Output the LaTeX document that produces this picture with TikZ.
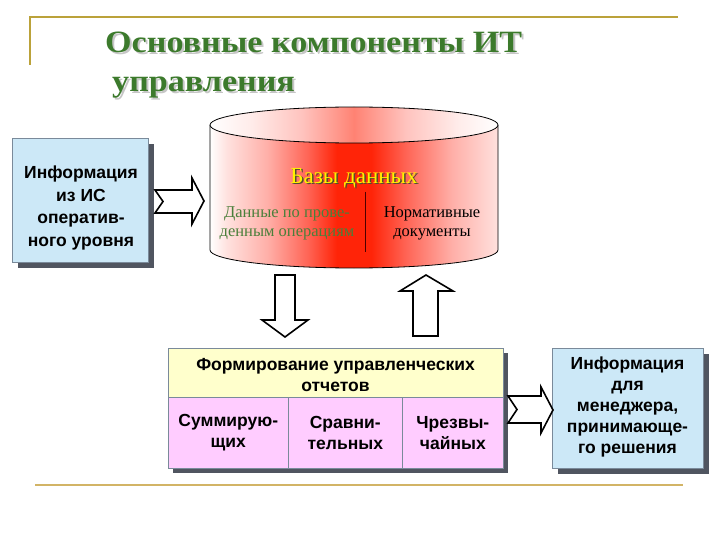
\documentclass[tikz,border=0pt]{standalone}
\usepackage{fontspec}
\setmainfont{Liberation Serif}
\setsansfont{Liberation Sans}
\newfontfamily\titlefont{Liberation Serif}[FakeStretch=1.1]
\usetikzlibrary{shadows}
\definecolor{frameline}{HTML}{BBA23A}
\definecolor{bottomline}{HTML}{D2B466}
\definecolor{titlegreen}{HTML}{3C7A2C}
\definecolor{txtgreen}{HTML}{4A7F3A}
\definecolor{boxblue}{HTML}{CCE8F7}
\definecolor{boxyellow}{HTML}{FFFFCC}
\definecolor{boxpink}{HTML}{FFCCFF}
\definecolor{boxedge}{HTML}{7A8A9A}
\definecolor{shadowc}{HTML}{505560}
\definecolor{redc}{RGB}{255,36,8}
\definecolor{redb}{RGB}{255,100,85}
\definecolor{redd}{RGB}{255,175,168}
\definecolor{rede}{RGB}{255,225,222}
\definecolor{topc}{RGB}{255,130,115}
\definecolor{topb}{RGB}{255,195,190}
\definecolor{topd}{RGB}{255,236,234}
\pgfdeclarehorizontalshading{cylshade}{100bp}{color(0bp)=(white); color(25bp)=(white); color(28bp)=(rede); color(35bp)=(redd); color(42bp)=(redb); color(47bp)=(redc); color(53bp)=(redc); color(59bp)=(redb); color(67bp)=(redd); color(75bp)=(rede); color(100bp)=(rede)}
\pgfdeclarehorizontalshading{topshade}{100bp}{color(0bp)=(white); color(25bp)=(white); color(32bp)=(topd); color(41bp)=(topb); color(50bp)=(topc); color(59bp)=(topb); color(68bp)=(topd); color(75bp)=(white); color(100bp)=(white)}
\tikzset{
  bluebox/.style={draw=boxedge, line width=0.6pt, fill=boxblue, inner sep=0pt,
    drop shadow={shadow xshift=6pt, shadow yshift=-6pt, opacity=1, fill=shadowc}},
  boxtext/.style={align=center, inner sep=0pt},
  cell/.style={draw=boxedge, line width=0.6pt, align=center, inner sep=0pt,
    font=\sffamily\bfseries\fontsize{17.5}{21}\selectfont},
  blockarrow/.style={draw=black, line width=1.6pt, fill=white, line join=miter},
  serif16/.style={font=\rmfamily\fontsize{16.5}{19}\selectfont, align=center, inner sep=0pt},
  titletext/.style={anchor=base west, font=\titlefont\bfseries\fontsize{31}{37}\selectfont, inner sep=0pt}
}
\begin{document}
\begin{tikzpicture}[x=1pt,y=-1pt]
\useasboundingbox (0,0) rectangle (720,540);
% frame lines
\draw[frameline, line width=1.6pt] (30,65) -- (30,17) -- (678,17);
\draw[bottomline, line width=1.6pt] (35,485) -- (683,485);
% title
\node[titletext, text=gray!45] at (107,55) {Основные компоненты ИТ};
\node[titletext, text=titlegreen] (t1) at (105,53) {Основные компоненты ИТ};
\node[titletext, text=gray!45] at (114,94) {управления};
\node[titletext, text=titlegreen] (t2) at (112,92) {управления};
% left box
\node[bluebox, minimum width=136pt, minimum height=124pt] (left) at (80,200) {};
\node[boxtext, font=\sffamily\bfseries\fontsize{17.5}{22.5}\selectfont] (lefttext) at (81,208) {Информация\\из ИС\\оператив-\\ного уровня};
% cylinder
\shade[shading=cylshade] (210,125) -- (210,250) arc[start angle=180, end angle=360, x radius=144pt, y radius=18pt] -- (498,125) -- cycle;
\draw[line width=0.8pt] (210,125) -- (210,250) arc[start angle=180, end angle=360, x radius=144pt, y radius=18pt] -- (498,125);
\shade[shading=topshade, draw=black, line width=0.8pt] (354,125) ellipse[x radius=144pt, y radius=18pt];
\node[text=black!55!olive, font=\rmfamily\fontsize{23}{26}\selectfont, inner sep=0pt] at (355.5,179.5) {Базы данных};
\node[text=yellow, font=\rmfamily\fontsize{23}{26}\selectfont, inner sep=0pt] (db) at (354,178) {Базы данных};
\node[serif16, text=txtgreen] (ops) at (287,223) {Данные по прове-\\денным операциям};
\node[serif16, text=black] (norm) at (432,223) {Нормативные\\документы};
\draw[line width=0.8pt, black!70!red] (365,192) -- (365,252);
% center box
\fill[shadowc] (173,353) rectangle (508,473);
\node[cell, fill=boxyellow, minimum width=335pt, minimum height=49pt, anchor=north west] (hdr) at (168,348) {};
\node[boxtext, font=\sffamily\bfseries\fontsize{17.5}{21.5}\selectfont] (hdrtext) at (335.5,375) {Формирование управленческих\\отчетов};
\node[cell, fill=boxpink, minimum width=120pt, minimum height=71pt, anchor=north west] (c1) at (168,397) {Суммирую-\\щих};
\node[cell, fill=boxpink, minimum width=114pt, minimum height=71pt, anchor=north west] (c2) at (288,397) {Сравни-\\тельных};
\node[cell, fill=boxpink, minimum width=101pt, minimum height=71pt, anchor=north west] (c3) at (402,397) {Чрезвы-\\чайных};
% right box
\node[bluebox, minimum width=151pt, minimum height=120pt] (right) at (627.5,408) {};
\node[boxtext, font=\sffamily\bfseries\fontsize{17.5}{21}\selectfont] (righttext) at (627.5,407) {Информация\\для\\менеджера,\\принимающе-\\го решения};
% block arrows
\draw[blockarrow] (155,190) -- (192,190) -- (192,178) -- (204,201) -- (192,224) -- (192,213) -- (155,213) -- (163,201.5) -- cycle;
\draw[blockarrow] (275,275) -- (295,275) -- (295,320) -- (308,320) -- (285,337) -- (262,320) -- (275,320) -- cycle;
\draw[blockarrow] (413,336) -- (438,336) -- (438,291) -- (453,291) -- (426,275) -- (400,291) -- (413,291) -- cycle;
\draw[blockarrow] (508,396) -- (541,396) -- (541,387) -- (553,410) -- (541,433) -- (541,423) -- (508,423) -- (517,409.5) -- cycle;
\end{tikzpicture}
\end{document}
